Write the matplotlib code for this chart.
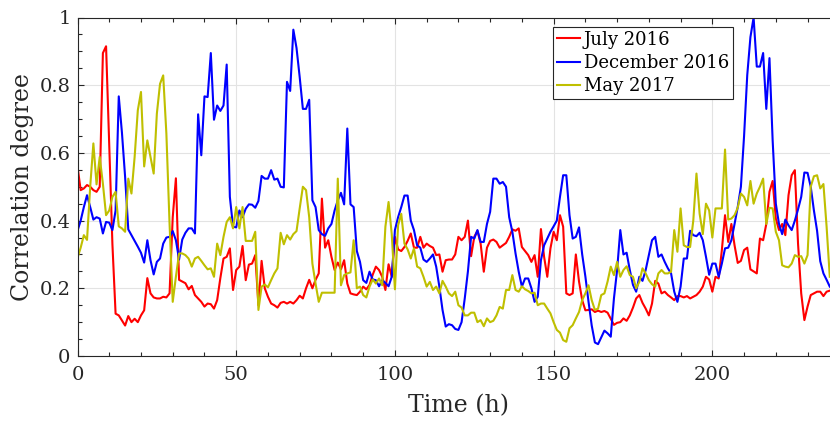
import numpy as np
import matplotlib
matplotlib.use('Agg')
import matplotlib.pyplot as plt

# hourly correlation degree
july_2016 = [
    .56, .49, .495, .505, .50, .49, .485, .50, .895, .915,
    .62, .33, .125, .12, .105, .09, .118, .10, .11, .10,
    .12, .135, .23, .185, .173, .17, .17, .175, .173, .185,
    .41, .525, .225, .22, .215, .197, .207, .18, .17, .16,
    .146, .155, .153, .14, .165, .23, .288, .293, .318, .195,
    .254, .264, .325, .224, .27, .273, .298, .15, .281, .20,
    .175, .155, .15, .143, .157, .16, .155, .16, .155, .165,
    .178, .17, .2, .225, .2, .225, .244, .465, .32, .342,
    .293, .254, .276, .256, .283, .214, .185, .182, .18, .19,
    .205, .197, .21, .24, .264, .254, .234, .195, .271, .234,
    .352, .315, .31, .322, .34, .362, .32, .32, .352, .32,
    .332, .325, .32, .298, .30, .249, .283, .285, .285, .30,
    .352, .342, .352, .40, .295, .352, .37, .332, .249, .32,
    .34, .344, .337, .32, .327, .334, .352, .374, .37, .377,
    .322, .31, .298, .278, .298, .234, .375, .293, .234, .318,
    .367, .342, .416, .382, .185, .18, .185, .30, .22, .165,
    .135, .136, .138, .13, .134, .13, .133, .128, .11, .092,
    .098, .10, .111, .104, .12, .143, .17, .18, .157, .14,
    .12, .155, .222, .214, .185, .19, .18, .173, .165, .177,
    .177, .173, .177, .17, .175, .18, .19, .205, .234, .226,
    .19, .234, .229, .313, .416, .337, .39, .327, .275, .281,
    .313, .32, .256, .25, .244, .347, .342, .39, .485, .517,
    .406, .372, .39, .357, .475, .534, .549, .332, .185, .106,
    .146, .18, .185, .19, .19, .177, .19, .193,
]

december_2016 = [
    .37, .40, .44, .475, .44, .403, .41, .406, .362, .396,
    .394, .372, .43, .767, .66, .529, .374, .357, .34, .323,
    .305, .276, .342, .283, .241, .278, .288, .332, .35, .352,
    .369, .342, .285, .344, .364, .377, .377, .362, .714, .593,
    .767, .765, .895, .698, .74, .724, .74, .861, .47, .382,
    .38, .43, .41, .435, .448, .447, .438, .458, .532, .524,
    .524, .549, .521, .524, .50, .498, .81, .783, .964, .91,
    .824, .73, .73, .757, .46, .44, .372, .36, .355, .377,
    .39, .43, .46, .482, .448, .672, .448, .44, .31, .278,
    .224, .216, .249, .226, .224, .206, .224, .216, .206, .234,
    .372, .41, .44, .474, .474, .40, .372, .327, .32, .285,
    .278, .288, .30, .264, .205, .136, .087, .094, .091, .08,
    .077, .10, .17, .25, .352, .347, .372, .337, .337, .39,
    .426, .524, .524, .509, .514, .50, .41, .367, .303, .249,
    .205, .229, .229, .20, .16, .175, .283, .327, .347, .367,
    .383, .40, .47, .534, .534, .416, .347, .352, .38, .30,
    .235, .16, .09, .04, .035, .055, .075, .067, .057, .17,
    .254, .372, .30, .305, .254, .21, .19, .234, .222, .254,
    .298, .342, .352, .293, .30, .278, .259, .244, .19, .16,
    .205, .288, .288, .37, .357, .354, .364, .342, .293, .24,
    .273, .273, .234, .273, .318, .32, .342, .39, .44, .50,
    .65, .83, .942, 1.0, .855, .855, .895, .73, .88, .637,
    .45, .39, .36, .403, .386, .372, .40, .433, .47, .542,
    .541, .50, .43, .37, .28, .244, .225, .205,
]

may_2017 = [
    .29, .32, .357, .343, .50, .628, .507, .588, .509, .416,
    .43, .47, .485, .383, .377, .367, .524, .48, .588, .726,
    .78, .56, .637, .588, .539, .716, .804, .829, .657, .391,
    .16, .234, .303, .303, .298, .288, .264, .288, .293, .281,
    .268, .256, .259, .234, .332, .298, .352, .396, .41, .377,
    .44, .377, .44, .34, .34, .34, .367, .136, .205, .211,
    .203, .224, .244, .259, .364, .33, .357, .344, .36, .369,
    .436, .50, .49, .41, .273, .214, .16, .187, .187, .187,
    .187, .187, .524, .209, .239, .244, .247, .342, .20, .205,
    .18, .173, .205, .226, .214, .229, .209, .382, .455, .36,
    .197, .386, .42, .332, .315, .288, .318, .264, .259, .234,
    .205, .219, .195, .205, .185, .222, .205, .185, .177, .19,
    .15, .143, .12, .12, .128, .128, .10, .106, .088, .111,
    .10, .104, .12, .145, .14, .195, .195, .239, .195, .19,
    .206, .197, .192, .185, .187, .15, .155, .155, .14, .126,
    .10, .077, .069, .047, .042, .082, .091, .111, .13, .165,
    .185, .209, .165, .136, .14, .18, .185, .22, .264, .239,
    .278, .234, .254, .265, .239, .234, .20, .219, .259, .244,
    .224, .212, .205, .244, .254, .244, .244, .249, .372, .308,
    .436, .327, .322, .322, .40, .539, .42, .36, .45, .43,
    .35, .436, .436, .436, .61, .403, .406, .416, .438, .48,
    .47, .445, .517, .45, .48, .50, .524, .39, .438, .436,
    .367, .342, .268, .264, .262, .273, .298, .293, .295, .273,
    .298, .50, .531, .534, .495, .508, .382, .234,
]

hours = np.arange(len(july_2016))

plt.rcParams['font.family'] = ['DejaVu Serif']

fig = plt.figure(figsize=(8.3, 4.21), dpi=100)
# axes runs a bit past the right edge of the picture (as in the reference)
ax = fig.add_axes([77.5 / 830, 1 - 356 / 421, (839.3 - 77.5) / 830, (356 - 17.5) / 421])

ax.plot(hours, july_2016, color='#ff0000', lw=1.5, label='July 2016')
ax.plot(hours, december_2016, color='#0000ff', lw=1.5, label='December 2016')
ax.plot(hours, may_2017, color='#bfbf00', lw=1.5, label='May 2017')

ax.set_xlim(0, 240)
ax.set_ylim(0, 1)
ax.set_xticks([0, 50, 100, 150, 200])
ax.set_xticks(np.arange(0, 241, 10), minor=True)
ax.set_yticks([0, 0.2, 0.4, 0.6, 0.8, 1])
ax.set_yticklabels(['0', '0.2', '0.4', '0.6', '0.8', '1'])
ax.set_yticks(np.arange(0, 1.001, 0.05), minor=True)
ax.grid(True, which='major', color='#e3e3e3', lw=0.8)
ax.set_axisbelow(True)

ax.tick_params(which='both', direction='in', top=True, right=True,
               color='#262626', labelcolor='#262626', labelsize=14)
ax.tick_params(which='major', length=4.5, width=0.8, pad=5)
ax.tick_params(axis='x', which='major', pad=7)
ax.tick_params(which='minor', length=3, width=0.8)
for s in ax.spines.values():
    s.set_color('#262626')
    s.set_linewidth(0.8)

ax.set_xlabel('Time (h)', fontsize=17, color='#262626', labelpad=7.5)
ax.set_ylabel('Correlation degree', fontsize=17, color='#262626', labelpad=4)

leg = ax.legend(loc='upper left', bbox_to_anchor=(553 / 830, 1 - 27 / 421),
                bbox_transform=fig.transFigure, borderaxespad=0,
                fontsize=13, frameon=True, fancybox=False,
                edgecolor='#262626', framealpha=1, handlelength=1.3,
                handletextpad=0.2, labelspacing=0.3, borderpad=0.2)
leg.get_frame().set_linewidth(0.8)

fig.savefig('out.png', dpi=100)
